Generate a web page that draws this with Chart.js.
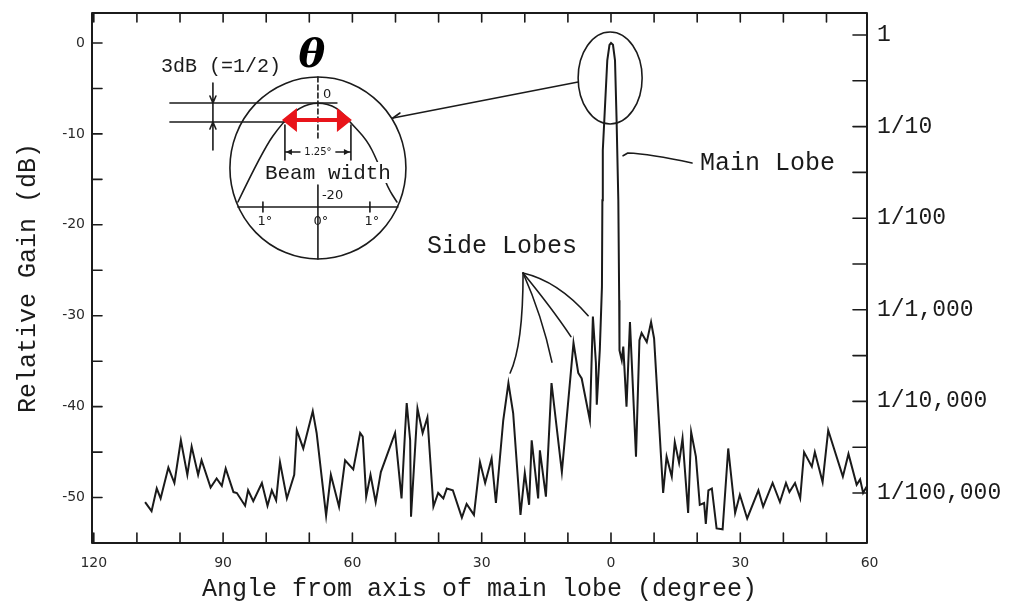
<!DOCTYPE html>
<html><head><meta charset="utf-8">
<script src="https://cdn.jsdelivr.net/npm/chart.js@4.4.1/dist/chart.umd.min.js"></script>
<style>html,body{margin:0;padding:0;background:#fff;}canvas{display:block;}</style>
</head><body>
<canvas id="c" width="1012" height="607" style="width:1012px;height:607px"></canvas>
<script>
// ---- data (angle in degrees, negative = left of main-lobe axis; gain in dB) ----
const angles = [-108.1,-106.6,-105.4,-104.5,-102.7,-101.3,-99.8,-98.3,-97.3,-95.8,
  -95.0,-92.9,-91.5,-90.3,-89.4,-87.6,-86.8,-84.9,-84.2,-83.0,
  -81.0,-79.7,-78.7,-77.7,-76.8,-75.2,-73.5,-72.9,-71.4,-69.2,
  -68.3,-66.1,-65.0,-63.1,-61.7,-59.8,-58.2,-57.6,-56.8,-55.8,
  -54.6,-53.4,-50.1,-48.6,-47.8,-47.4,-46.6,-46.4,-44.9,-43.7,
  -42.6,-41.2,-40.1,-38.9,-38.1,-36.7,-34.6,-33.5,-31.8,-30.4,
  -29.2,-27.7,-26.7,-25.0,-23.8,-22.7,-21.0,-20.0,-19.0,-18.4,
  -16.9,-16.5,-15.1,-13.8,-11.4,-8.7,-7.6,-6.8,-4.9,-4.2,
  -3.5,-3.3,-2.6,-2.1,-2.0,-1.9,-1.55,-0.86,-0.35,0,
  0.46,0.93,1.3,1.7,1.9,1.97,2.5,2.85,3.6,4.4,
  4.8,5.8,6.6,7.1,8.3,9.3,10.0,12.1,12.9,14.1,
  14.8,15.8,16.6,17.9,18.6,19.7,20.6,21.6,22.0,22.6,
  23.4,24.5,25.9,27.2,28.8,29.9,31.6,34.2,35.3,37.5,
  39.2,40.6,41.4,42.7,43.9,44.8,46.6,47.3,49.1,50.4,
  53.8,55.1,57.0,57.8,58.5,59.3];
const gainDb = [-50.5,-51.5,-49.0,-50.1,-46.7,-48.4,-43.7,-47.5,-44.4,-47.5,
  -45.9,-48.9,-47.9,-48.7,-46.8,-49.4,-49.5,-50.9,-49.2,-50.4,
  -48.4,-50.9,-49.2,-50.3,-46.1,-50.1,-47.5,-42.6,-44.6,-40.5,
  -42.9,-52.0,-47.5,-51.0,-45.9,-46.9,-42.9,-43.3,-49.9,-47.5,
  -50.5,-47.2,-42.9,-50.1,-42.9,-39.6,-43.7,-52.1,-40.2,-42.9,
  -41.2,-51.0,-49.5,-50.1,-49.0,-49.2,-52.2,-50.7,-51.9,-46.1,
  -48.4,-45.7,-50.6,-41.5,-37.4,-40.7,-51.9,-47.3,-50.8,-43.7,
  -50.1,-44.8,-49.9,-37.4,-47.2,-33.0,-36.3,-36.9,-41.5,-30.1,
  -35.2,-39.8,-33.8,-26.8,-17.3,-11.8,-8.5,-1.9,-0.2,0,
  -0.2,-1.9,-8.5,-17.3,-28.3,-33.8,-34.9,-33.4,-40.0,-30.7,
  -34.9,-45.5,-32.7,-31.9,-32.9,-30.7,-32.5,-49.5,-45.5,-47.7,
  -43.9,-46.2,-43.5,-51.7,-42.8,-45.5,-50.8,-50.6,-52.9,-49.2,
  -49.0,-53.4,-53.5,-44.6,-51.7,-49.7,-52.3,-49.2,-51.0,-48.4,
  -50.5,-48.4,-49.4,-48.4,-50.1,-45.0,-46.6,-45.0,-48.3,-42.6,
  -47.7,-45.2,-48.6,-48.0,-49.5,-48.8];

// ---- tick labels ----
const xTickValues = [-120,-90,-60,-30,0,30,60];
const xTickLabels = ['120','90','60','30','0','30','60'];
const yTickValues = [0,-10,-20,-30,-40,-50];
const yTickLabels = ['0','-10','-20','-30','-40','-50'];
const ratioTickLabels = ['1','1/10','1/100','1/1,000','1/10,000','1/100,000'];

const INK = '#1b1b1b';
const MONO = '"Liberation Mono", "DejaVu Sans Mono", monospace';

const points = angles.map((a, i) => ({x: a, y: gainDb[i]}));

function smoothPath(ctx, pts) {
  ctx.moveTo(pts[0][0], pts[0][1]);
  for (let i = 1; i < pts.length - 1; i++) {
    const mx = (pts[i][0] + pts[i+1][0]) / 2, my = (pts[i][1] + pts[i+1][1]) / 2;
    ctx.quadraticCurveTo(pts[i][0], pts[i][1], mx, my);
  }
  const l = pts[pts.length-1]; ctx.lineTo(l[0], l[1]);
}

const decor = {
  id: 'decor',
  afterDraw(chart) {
    const {ctx, chartArea: ca, scales} = chart;
    const X = a => scales.x.getPixelForValue(a);
    const Y = d => scales.y.getPixelForValue(d);
    ctx.save();
    ctx.lineCap = 'round'; ctx.lineJoin = 'round';
    // frame
    ctx.strokeStyle = INK; ctx.lineWidth = 2;
    ctx.strokeRect(ca.left, ca.top, ca.right - ca.left, ca.bottom - ca.top);
    // inward ticks
    ctx.lineWidth = 1.6; ctx.beginPath();
    for (let a = -120; a <= 60; a += 10) {
      const p = X(a); if (p < ca.left - 0.5 || p > ca.right - 1) continue;
      ctx.moveTo(p, ca.bottom); ctx.lineTo(p, ca.bottom - 10);
      ctx.moveTo(p, ca.top); ctx.lineTo(p, ca.top + 9);
    }
    for (let d = 0; d >= -50; d -= 5) {
      const p = Y(d); ctx.moveTo(ca.left, p); ctx.lineTo(ca.left + 10, p);
      const q = scales.y2.getPixelForValue(d); ctx.moveTo(ca.right, q); ctx.lineTo(ca.right - 14, q);
    }
    ctx.stroke();

    ctx.strokeStyle = INK; ctx.fillStyle = INK; ctx.lineWidth = 1.6;
    // ellipse around main lobe
    const ex = X(-0.2), ey = Y(-3.85);
    ctx.beginPath(); ctx.ellipse(ex, ey, 32, 46, 0, 0, 2 * Math.PI); ctx.stroke();

    // inset
    const cx = X(-68.0), cy = Y(-13.75);
    ctx.beginPath(); ctx.ellipse(cx, cy, 88, 91, 0, 0, 2 * Math.PI); ctx.stroke();
    // connector ellipse -> inset
    ctx.beginPath(); ctx.moveTo(ex - 32, ey + 4); ctx.lineTo(cx + 75, cy - 50); ctx.stroke();
    ctx.beginPath(); ctx.moveTo(cx + 75, cy - 50); ctx.lineTo(cx + 82, cy - 55); ctx.stroke();

    // beam shape
    const beam = [[-80,34],[-55,-18],[-35,-46],[-18,-61],[0,-66],[19,-61],[32,-46],[49,-28],[59,-8],[70,20],[79,34]]
      .map(([dx, dy]) => [cx + dx, cy + dy]);
    ctx.beginPath(); smoothPath(ctx, beam); ctx.stroke();
    // inset angle axis
    ctx.beginPath(); ctx.moveTo(cx - 80, cy + 39); ctx.lineTo(cx + 80, cy + 39);
    [-55, 52].forEach(dx => { ctx.moveTo(cx + dx, cy + 34); ctx.lineTo(cx + dx, cy + 44); });
    ctx.stroke();
    // center line: dashed above, solid below
    ctx.save(); ctx.setLineDash([5, 3]);
    ctx.beginPath(); ctx.moveTo(cx, cy - 91); ctx.lineTo(cx, cy - 30); ctx.stroke();
    ctx.restore();
    ctx.beginPath(); ctx.moveTo(cx, cy + 17); ctx.lineTo(cx, cy + 91); ctx.stroke();
    // 3 dB level lines
    ctx.beginPath();
    ctx.moveTo(cx - 148, cy - 65); ctx.lineTo(cx + 19, cy - 65);
    ctx.moveTo(cx - 148, cy - 46); ctx.lineTo(cx - 33, cy - 46);
    const vx = cx - 105;
    ctx.moveTo(vx, cy - 85); ctx.lineTo(vx, cy - 18);
    ctx.moveTo(vx - 3, cy - 72); ctx.lineTo(vx, cy - 65); ctx.lineTo(vx + 3, cy - 72);
    ctx.moveTo(vx - 3, cy - 39); ctx.lineTo(vx, cy - 46); ctx.lineTo(vx + 3, cy - 39);
    // beam-width dimension lines
    ctx.moveTo(cx - 33, cy - 43); ctx.lineTo(cx - 33, cy - 8);
    ctx.moveTo(cx + 33, cy - 43); ctx.lineTo(cx + 33, cy - 8);
    ctx.moveTo(cx - 32, cy - 16); ctx.lineTo(cx - 18, cy - 16);
    ctx.moveTo(cx + 18, cy - 16); ctx.lineTo(cx + 32, cy - 16);
    ctx.stroke();
    ctx.beginPath();
    ctx.moveTo(cx - 32, cy - 16); ctx.lineTo(cx - 26, cy - 19); ctx.lineTo(cx - 26, cy - 13); ctx.closePath();
    ctx.moveTo(cx + 32, cy - 16); ctx.lineTo(cx + 26, cy - 19); ctx.lineTo(cx + 26, cy - 13); ctx.closePath();
    ctx.fill();

    // inset texts
    ctx.textBaseline = 'middle';
    ctx.textAlign = 'center';
    ctx.font = '10px "DejaVu Sans"'; ctx.fillText('1.25°', cx, cy - 16);
    ctx.font = '21px ' + MONO;
    const bw = ctx.measureText('Beam width').width;
    ctx.fillStyle = '#fff'; ctx.fillRect(cx + 10 - bw / 2, cy - 6, bw, 21);
    ctx.fillStyle = INK; ctx.fillText('Beam width', cx + 10, cy + 5);
    ctx.font = '20px ' + MONO; ctx.fillText('3dB (=1/2)', cx - 97, cy - 101);
    ctx.font = '13px "DejaVu Sans"';
    ctx.fillText('1°', cx - 53, cy + 54); ctx.fillText('0°', cx + 3, cy + 54); ctx.fillText('1°', cx + 54, cy + 54);
    ctx.textAlign = 'left';
    ctx.fillText('0', cx + 5, cy - 73);
    ctx.fillText('-20', cx + 4, cy + 28);
    ctx.textAlign = 'center';
    ctx.fillStyle = '#000'; ctx.font = 'bold italic 40px "DejaVu Serif"';
    ctx.fillText('θ', cx - 6, cy - 111);

    // red beam-width arrow
    const ry = cy - 48, rl = cx - 36, rr = cx + 34;
    ctx.strokeStyle = '#e8141a'; ctx.fillStyle = '#e8141a'; ctx.lineWidth = 4; ctx.lineCap = 'butt';
    ctx.beginPath(); ctx.moveTo(rl + 10, ry); ctx.lineTo(rr - 10, ry); ctx.stroke();
    ctx.beginPath();
    ctx.moveTo(rl, ry); ctx.lineTo(rl + 15, ry - 12); ctx.lineTo(rl + 15, ry + 12); ctx.closePath();
    ctx.moveTo(rr, ry); ctx.lineTo(rr - 15, ry - 12); ctx.lineTo(rr - 15, ry + 12); ctx.closePath();
    ctx.fill();

    // Main Lobe label + leader
    ctx.strokeStyle = INK; ctx.fillStyle = INK; ctx.lineWidth = 1.6; ctx.lineCap = 'round';
    ctx.beginPath(); ctx.moveTo(X(2.8), Y(-12.4)); ctx.lineTo(X(3.9), Y(-12.1));
    ctx.quadraticCurveTo(X(9.05), Y(-12.2), X(18.8), Y(-13.2)); ctx.stroke();
    ctx.font = '25px ' + MONO; ctx.textAlign = 'left';
    ctx.fillText('Main Lobe', X(20.65), Y(-13.2));

    // Side Lobes label + leaders
    ctx.textAlign = 'center';
    ctx.fillText('Side Lobes', X(-25.3), Y(-22.4));
    const hub = [X(-20.4), Y(-25.3)];
    const leaders = [
      [[-20.4, -33.2], [-23.4, -36.3]],
      [[-16.0, -30.0], [-13.7, -35.1]],
      [[-13.5, -29.3], [-9.3, -32.3]],
      [[-12.3, -26.2], [-5.3, -30.0]]
    ];
    leaders.forEach(([c, e]) => {
      ctx.beginPath(); ctx.moveTo(hub[0], hub[1]);
      ctx.quadraticCurveTo(X(c[0]), Y(c[1]), X(e[0]), Y(e[1])); ctx.stroke();
    });
    ctx.restore();
  }
};

const noPadV = s => { s.paddingTop = 0; s.paddingBottom = 0; };

new Chart(document.getElementById('c'), {
  type: 'line',
  data: {
    datasets: [{
      label: 'Relative gain',
      data: points,
      borderColor: '#1a1a1a',
      borderWidth: 2,
      pointRadius: 0,
      tension: 0,
      fill: false
    }]
  },
  options: {
    responsive: false,
    animation: false,
    devicePixelRatio: 1,
    layout: {padding: {top: 13, left: 0, right: 0, bottom: 0}},
    plugins: {legend: {display: false}, tooltip: {enabled: false}},
    scales: {
      x: {
        type: 'linear', position: 'bottom', min: -120.42, max: 59.4,
        afterBuildTicks: s => { s.ticks = xTickValues.map(v => ({value: v})); },
        afterFit: s => { s.height = 64; s.paddingLeft = 0; s.paddingRight = 0; },
        grid: {display: false, drawTicks: false}, border: {display: false},
        ticks: {autoSkip: false, maxRotation: 0, padding: 12, color: '#2a2a2a',
          font: {family: '"DejaVu Sans"', size: 14},
          callback: (v, i) => xTickLabels[i]},
        title: {display: true, text: 'Angle from axis of main lobe (degree)', color: INK,
          font: {family: MONO, size: 25}, padding: {top: 0, bottom: 3}}
      },
      y: {
        type: 'linear', position: 'left', min: -55, max: 3.3,
        afterBuildTicks: s => { s.ticks = yTickValues.map(v => ({value: v})); },
        afterFit: s => { s.width = 92; noPadV(s); },
        grid: {display: false, drawTicks: false}, border: {display: false},
        ticks: {padding: 7, color: '#2a2a2a', font: {family: '"DejaVu Sans"', size: 14},
          callback: (v, i) => yTickLabels[i]},
        title: {display: true, text: 'Relative Gain (dB)', color: INK,
          font: {family: MONO, size: 25}, padding: {top: 13, bottom: 0}}
      },
      y2: {
        type: 'linear', position: 'right', min: -55.46, max: 2.4,
        afterBuildTicks: s => { s.ticks = yTickValues.map(v => ({value: v})); },
        afterFit: s => { s.width = 145; noPadV(s); },
        grid: {display: false, drawTicks: false}, border: {display: false},
        ticks: {padding: 10, color: INK, font: {family: MONO, size: 23},
          callback: (v, i) => ratioTickLabels[i]}
      }
    }
  },
  plugins: [decor]
});
</script>
</body></html>
